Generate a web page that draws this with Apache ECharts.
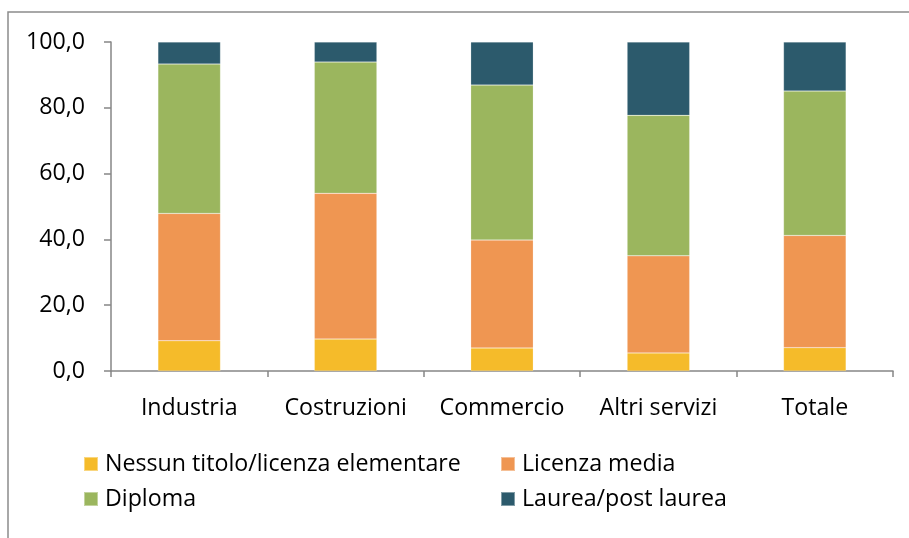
<!DOCTYPE html>
<html>
<head>
<meta charset="utf-8">
<script src="https://cdn.jsdelivr.net/npm/echarts@6/dist/echarts.min.js"></script>
<style>
  html, body { margin: 0; padding: 0; background: #fff; }
  #chart { width: 909px; height: 538px; }
</style>
</head>
<body>
<div id="chart"></div>
<script>
// dati (%)
const categories = ['Industria', 'Costruzioni', 'Commercio', 'Altri servizi', 'Totale']
const seriesNames = ['Nessun titolo/licenza elementare', 'Licenza media', 'Diploma', 'Laurea/post laurea']
const nessunTitolo = [9.2, 9.7, 7.0, 5.5, 7.1]
const licenzaMedia = [38.7, 44.3, 32.8, 29.5, 34.1]
const diploma = [45.4, 39.9, 47.1, 42.7, 43.9]
const laurea = [6.7, 6.1, 13.1, 22.3, 14.9]
const yTicks = [0, 20, 40, 60, 80, 100]

const colors = ['#F5BB2A', '#EF9652', '#9BB65E', '#2C5A6C']
const seriesData = [nessunTitolo, licenzaMedia, diploma, laurea]
const fontFamily = '"Open Sans", Lato, sans-serif'
const fontSize = 23.2
const axisColor = '#868686'

const chart = echarts.init(document.getElementById('chart'))

// una legenda per voce, per avere le colonne allineate
const legendPos = [
  { left: 83, top: 452 },
  { left: 500, top: 452 },
  { left: 83, top: 487 },
  { left: 500, top: 487 },
]

const option = {
  animation: false,
  color: colors,
  graphic: [
    {
      type: 'rect',
      shape: { x: 8, y: 12, width: 1000, height: 1000 },
      style: { fill: 'none', stroke: '#8c8c8c', lineWidth: 1.5 },
      silent: true,
    },
  ],
  legend: seriesNames.map((name, i) => ({
    data: [name],
    left: legendPos[i].left,
    top: legendPos[i].top,
    padding: 0,
    itemWidth: 14,
    itemHeight: 14,
    itemGap: 0,
    icon: 'rect',
    textStyle: {
      fontFamily: fontFamily,
      fontSize: fontSize,
      color: '#000',
      lineHeight: 24,
      padding: [0, 0, 0, 2],
    },
    selectedMode: false,
  })),
  grid: {
    left: 111,
    right: 16,
    top: 42,
    bottom: 167,
  },
  xAxis: {
    type: 'category',
    data: categories,
    axisLine: { lineStyle: { color: axisColor, width: 1.5 } },
    axisTick: { show: true, length: 6, lineStyle: { color: axisColor, width: 1.5 } },
    axisLabel: {
      fontFamily: fontFamily,
      fontSize: fontSize,
      color: '#000',
      margin: 26,
      interval: 0,
    },
  },
  yAxis: {
    type: 'value',
    min: 0,
    max: 100,
    interval: 20,
    axisLine: { show: true, lineStyle: { color: axisColor, width: 1.5 } },
    axisTick: { show: true, length: 7, lineStyle: { color: axisColor, width: 1.5 } },
    splitLine: { show: false },
    axisLabel: {
      fontFamily: fontFamily,
      fontSize: fontSize,
      color: '#000',
      margin: 26,
      customValues: yTicks,
      formatter: (v) => v.toFixed(1).replace('.', ','),
    },
  },
  series: seriesNames.map((name, i) => ({
    name: name,
    type: 'bar',
    stack: 'totale',
    barWidth: '40%',
    data: seriesData[i],
    itemStyle: {
      color: colors[i],
      borderColor: 'rgba(255,255,255,0.4)',
      borderWidth: 0.5,
    },
  })),
}

chart.setOption(option)
</script>
</body>
</html>
